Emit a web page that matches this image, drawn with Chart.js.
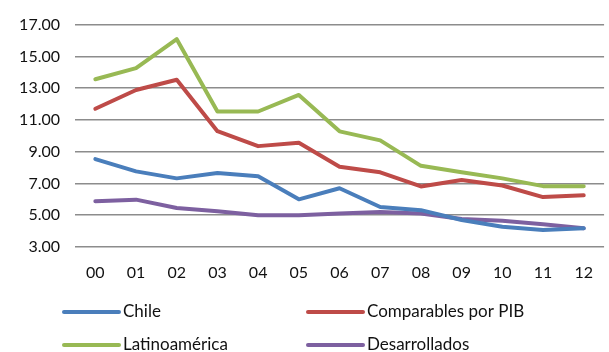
<!DOCTYPE html>
<html>
<head>
<meta charset="utf-8">
<script src="https://cdn.jsdelivr.net/npm/chart.js@4/dist/chart.umd.min.js"></script>
<style>
  html, body { margin: 0; padding: 0; background: #fff; }
  #wrap { position: relative; width: 609px; height: 352px; }
</style>
</head>
<body>
<div id="wrap"><canvas id="c" width="609" height="352"></canvas></div>
<script>
// Years (two-digit labels)
const years = ['00','01','02','03','04','05','06','07','08','09','10','11','12'];

// Series values
const chile          = [8.53, 7.76, 7.32, 7.66, 7.45, 6.00, 6.70, 5.52, 5.32, 4.70, 4.28, 4.07, 4.18];
const comparables    = [11.70, 12.88, 13.53, 10.29, 9.35, 9.56, 8.05, 7.70, 6.81, 7.22, 6.87, 6.14, 6.25];
const latinoamerica  = [13.56, 14.26, 16.08, 11.53, 11.53, 12.57, 10.28, 9.71, 8.11, 7.70, 7.32, 6.83, 6.83];
const desarrollados  = [5.88, 5.98, 5.46, 5.25, 5.00, 5.00, 5.11, 5.21, 5.11, 4.76, 4.65, 4.43, 4.18];

// Y axis ticks
const yTicks = [3, 5, 7, 9, 11, 13, 15, 17];

const seriesNames = ['Chile', 'Comparables por PIB', 'Latinoamérica', 'Desarrollados'];
const seriesColors = ['#4a7ebb', '#be4b48', '#98b954', '#7d60a0'];
const seriesData = [chile, comparables, latinoamerica, desarrollados];

const FONT = 'Lato, "Open Sans", sans-serif';
const TEXT = '#111';

// Two-column legend drawn below the plot
const gridLegend = {
  id: 'gridLegend',
  afterDraw(chart) {
    const ctx = chart.ctx;
    const cols = [64, 308];
    const rows = [312, 345];
    ctx.save();
    ctx.font = '17px ' + FONT;
    ctx.textBaseline = 'middle';
    ctx.textAlign = 'left';
    chart.data.datasets.forEach((ds, i) => {
      const x = cols[i % 2];
      const y = rows[Math.floor(i / 2)];
      ctx.strokeStyle = ds.borderColor;
      ctx.lineWidth = 4;
      ctx.lineCap = 'round';
      ctx.beginPath();
      ctx.moveTo(x, y);
      ctx.lineTo(x + 55, y);
      ctx.stroke();
      ctx.fillStyle = TEXT;
      ctx.fillText(ds.label, x + 59, y);
    });
    ctx.restore();
  }
};

new Chart(document.getElementById('c'), {
  type: 'line',
  data: {
    labels: years,
    datasets: seriesData.map((d, i) => ({
      label: seriesNames[i],
      data: d,
      borderColor: seriesColors[i],
      backgroundColor: seriesColors[i],
      borderWidth: 4,
      pointRadius: 0,
      tension: 0,
      borderCapStyle: 'round',
      borderJoinStyle: 'round'
    }))
  },
  options: {
    responsive: false,
    animation: false,
    layout: { padding: { top: 22, right: 0, bottom: 0, left: 0 } },
    plugins: { legend: { display: false }, tooltip: { enabled: false } },
    scales: {
      x: {
        offset: true,
        grid: { display: false, drawTicks: false },
        border: { display: false },
        ticks: { font: { family: FONT, size: 16 }, color: TEXT, padding: 16, maxRotation: 0 },
        afterFit(scale) { scale.height = 105; }
      },
      y: {
        min: 3, max: 17,
        afterBuildTicks(scale) { scale.ticks = yTicks.map(v => ({ value: v })); },
        grid: { color: '#8c8c8c', lineWidth: 1.5, drawTicks: false },
        border: { display: false },
        ticks: {
          font: { family: FONT, size: 16 }, color: TEXT, padding: 15,
          callback: v => Number(v).toFixed(2)
        },
        afterFit(scale) { scale.width = 75; }
      }
    }
  },
  plugins: [gridLegend]
});
</script>
</body>
</html>
